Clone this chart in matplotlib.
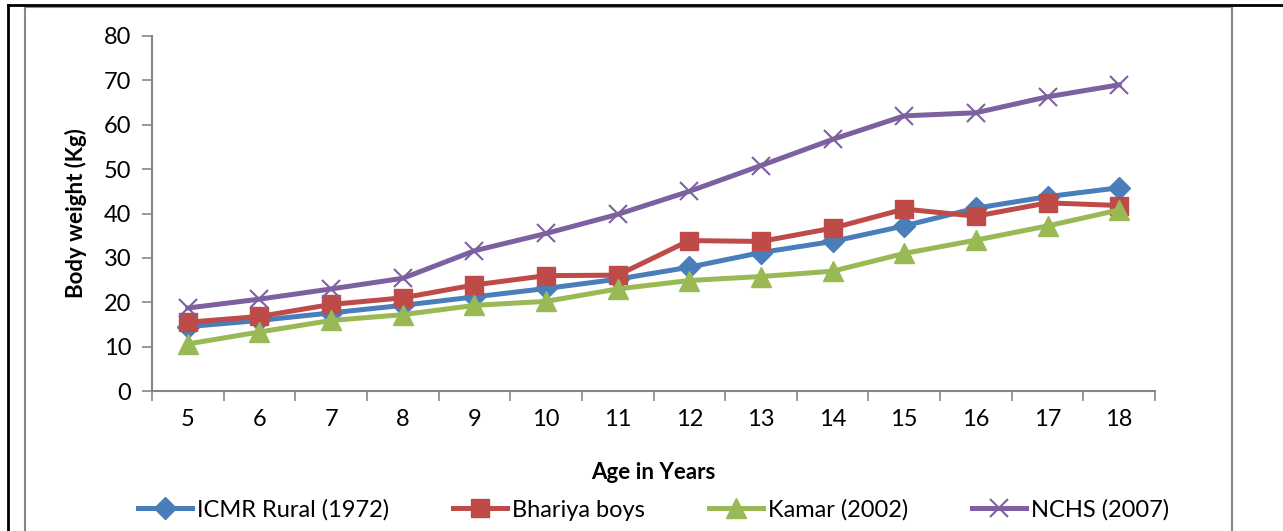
import numpy as np
import matplotlib
matplotlib.use("Agg")
import matplotlib.pyplot as plt
from matplotlib.lines import Line2D

# data
ages = [5, 6, 7, 8, 9, 10, 11, 12, 13, 14, 15, 16, 17, 18]
icmr = [14.5, 15.9, 17.6, 19.3, 21.2, 23.1, 25.2, 27.9, 31.2, 33.7, 37.2, 41.2, 43.8, 45.8]
bhariya = [15.5, 16.8, 19.5, 21.0, 23.9, 26.0, 26.1, 33.9, 33.7, 36.7, 41.0, 39.4, 42.4, 41.8]
kamar = [10.6, 13.3, 15.9, 17.2, 19.3, 20.2, 23.0, 24.9, 25.8, 27.0, 31.0, 34.0, 37.2, 40.8]
nchs = [18.7, 20.7, 23.0, 25.4, 31.6, 35.5, 39.8, 45.0, 50.8, 56.7, 62.0, 62.7, 66.3, 69.0]
series_names = ['ICMR Rural (1972)', 'Bhariya boys', 'Kamar (2002)', 'NCHS (2007)']

plt.rcParams['font.family'] = ['Lato', 'DejaVu Sans']

W, H = 1283, 531
fig = plt.figure(figsize=(W / 100, H / 100), dpi=100)
ax = fig.add_axes([152 / W, 1 - 391 / H, (1155 - 152) / W, (391 - 36) / H])

x = np.arange(len(ages))
lw = 3.6
ax.plot(x, icmr, color='#4A7EBB', lw=lw, marker='D', ms=11, label=series_names[0])
ax.plot(x, bhariya, color='#BE4B48', lw=lw, marker='s', ms=13, label=series_names[1])
ax.plot(x, kamar, color='#98B954', lw=lw, marker='^', ms=14, label=series_names[2])
ax.plot(x, nchs, color='#7D60A0', lw=lw, marker='x', ms=13, mew=1.5, label=series_names[3])

ax.set_xlim(-0.5, len(ages) - 0.5)
ax.set_ylim(0, 80)
ax.set_yticks(range(0, 81, 10))
ax.set_xticks(x)
ax.set_xticklabels([str(a) for a in ages])
ax.set_xticks(np.arange(-0.5, len(ages), 1), minor=True)
ax.tick_params(axis='x', which='major', length=0, pad=13, labelsize=17)
ax.tick_params(axis='x', which='minor', length=7, width=1.2, color='#868686', direction='out')
ax.tick_params(axis='y', length=7, width=1.2, color='#868686', pad=8, labelsize=17)

for s in ['top', 'right']:
    ax.spines[s].set_visible(False)
for s in ['left', 'bottom']:
    ax.spines[s].set_color('#868686')
    ax.spines[s].set_linewidth(1.5)

ax.set_ylabel('Body weight (Kg)', fontsize=16, fontweight='bold', labelpad=12)
ax.set_xlabel('Age in Years', fontsize=16, fontweight='bold', labelpad=23)

ax.legend(loc='center', bbox_to_anchor=(0.5, -0.335), ncol=4, frameon=False,
          fontsize=17, handlelength=2.3, handletextpad=0.2, columnspacing=2.7)

# outer frame lines
def px_line(x0, y0, x1, y1, color, lw):
    fig.add_artist(Line2D([x0 / W, x1 / W], [1 - y0 / H, 1 - y1 / H], color=color, lw=lw,
                          transform=fig.transFigure))

px_line(25, 6.5, 25, H, '#868686', 1.5)
px_line(25, 6.5, 1232, 6.5, '#868686', 1.5)
px_line(1232, 6.5, 1232, H, '#868686', 1.5)
px_line(7.5, 5, 7.5, H, 'black', 2)
px_line(7.5, 5, W, 5, 'black', 2)

fig.savefig('out.png', dpi=100)
